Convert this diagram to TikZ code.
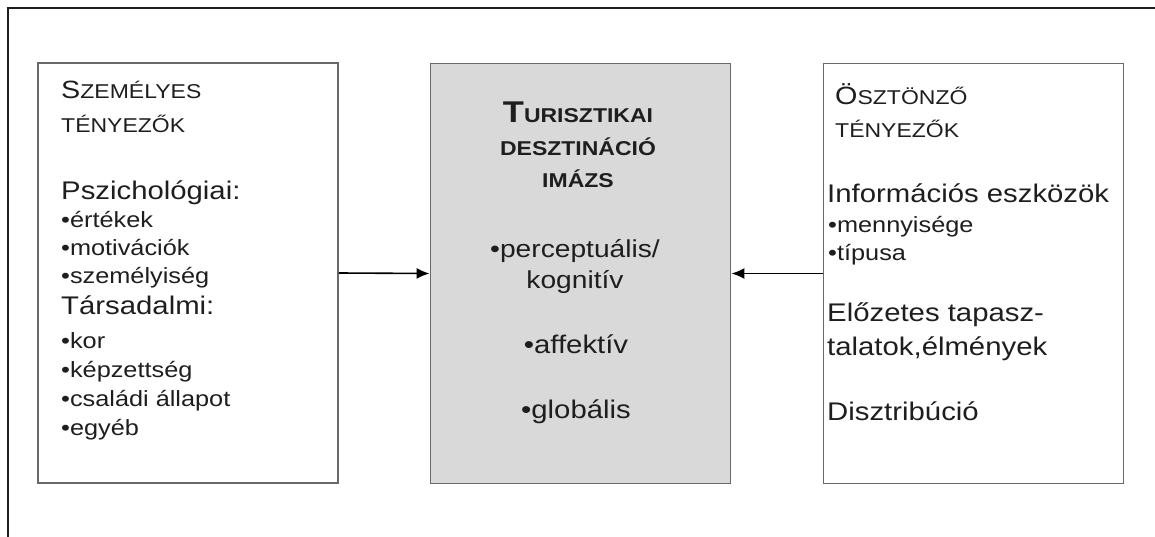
\documentclass[tikz,border=0pt]{standalone}
\usepackage{fontspec}
\setmainfont{Liberation Sans}[FakeStretch=1.15]
\usetikzlibrary{arrows.meta}
\definecolor{boxline}{RGB}{105,105,105}
\definecolor{imgfill}{RGB}{217,217,217}
\definecolor{ink}{RGB}{30,30,30}
\newcommand{\fsc}[2]{{\fontsize{25}{34}\selectfont #1}{\fontsize{20}{34}\selectfont #2}}

\begin{document}
\begin{tikzpicture}[x=1pt, y=-1pt,
  text=ink,
  factor/.style={draw=boxline, line width=1.8pt, minimum width=300pt,
                 minimum height=420pt, inner sep=0pt},
  imgbox/.style={factor, fill=imgfill},
  txt/.style={anchor=base west, align=left, inner sep=0pt},
  ctxt/.style={anchor=base, align=center, inner sep=0pt},
  subhead/.style={txt, font=\fontsize{25.5}{34}\selectfont},
  items/.style={txt, font=\fontsize{22}{27.6}\selectfont},
  arrow/.style={-{Latex[length=13pt, width=11pt]}, line width=1.6pt},
]
\useasboundingbox (0,0) rectangle (1155,537);
\draw[ink, line width=1.3pt] (8,537) -- (8,8) -- (1155,8);

\node[factor] (pers) at (188,273) {};
\node[imgbox] (img) at (580.5,273.5) {};
\node[factor] (stim) at (973.5,273.5) {};

\draw[arrow] (pers.east) -- (img.west);
\draw[arrow] (stim.west) -- (img.east);

% left box (multi-line nodes sit on their last baseline)
\node[txt, font=\fontsize{20}{34}\selectfont] (persH) at (61,133)
  {\fsc{S}{ZEMÉLYES}\\TÉNYEZŐK};
\node[subhead] (psy) at (61,200) {Pszichológiai:};
\node[items] (psyL) at (61,283) {•értékek\\•motivációk\\•személyiség};
\node[subhead] (soc) at (61,314) {Társadalmi:};
\node[items, font=\fontsize{22}{28.7}\selectfont] (socL) at (61,435)
  {•kor\\•képzettség\\•családi állapot\\•egyéb};

% center box
\node[ctxt, font=\bfseries\fontsize{20}{32.7}\selectfont] (imgH) at (578,188)
  {{\fontsize{30}{32.7}\selectfont T}URISZTIKAI\\DESZTINÁCIÓ\\IMÁZS};
\node[ctxt, font=\fontsize{24.5}{31}\selectfont] (dims) at (575,288)
  {•perceptuális/\\kognitív};
\node[ctxt, font=\fontsize{25.5}{31}\selectfont] (aff) at (576,353) {•affektív};
\node[ctxt, font=\fontsize{25.5}{31}\selectfont] (glob) at (576,418) {•globális};

% right box
\node[txt, font=\fontsize{20}{33}\selectfont] (stimH) at (835,138)
  {\fsc{Ö}{SZTÖNZŐ}\\TÉNYEZŐK};
\node[subhead] (info) at (827,203) {Információs eszközök};
\node[items] (infoL) at (828,260) {•mennyisége\\•típusa};
\node[subhead] (prev) at (827,355) {Előzetes tapasz-\\talatok,élmények};
\node[subhead] (distr) at (827,420) {Disztribúció};
\end{tikzpicture}
\end{document}
